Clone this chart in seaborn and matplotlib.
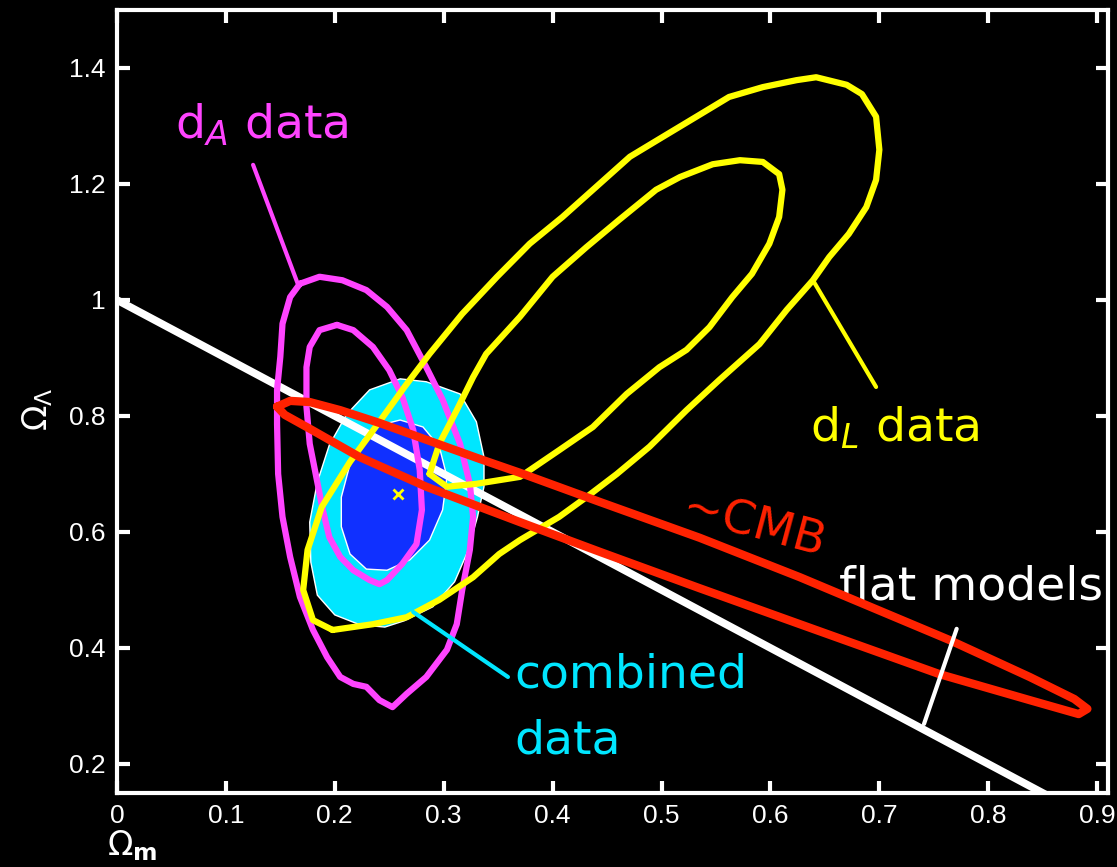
"""
Omega_m / Omega_Lambda confidence contours: d_A, d_L, ~CMB and combined data.
"""

import numpy as np
import matplotlib
matplotlib.use('Agg')
import matplotlib.pyplot as plt
import seaborn as sns

# ========== data (Omega_m, Omega_Lambda) ==========
# d_A contours (magenta)
da_outer_om = [0.168, 0.186, 0.207, 0.229, 0.248, 0.266, 0.284, 0.299, 0.315, 0.324, 0.327,
               0.324, 0.317, 0.312, 0.303, 0.284, 0.266, 0.253, 0.241, 0.229, 0.217, 0.205,
               0.193, 0.180, 0.168, 0.159, 0.152, 0.148, 0.147, 0.147, 0.150, 0.152, 0.159]
da_outer_ol = [1.028, 1.040, 1.034, 1.017, 0.988, 0.948, 0.884, 0.828, 0.752, 0.683, 0.626,
               0.569, 0.500, 0.441, 0.397, 0.350, 0.321, 0.298, 0.310, 0.333, 0.338, 0.350,
               0.384, 0.431, 0.488, 0.557, 0.626, 0.700, 0.786, 0.845, 0.902, 0.959, 1.005]
da_inner_om = [0.202, 0.217, 0.235, 0.250, 0.262, 0.272, 0.278, 0.280, 0.275, 0.262, 0.248,
               0.241, 0.232, 0.217, 0.205, 0.195, 0.189, 0.183, 0.177, 0.174, 0.174, 0.177, 0.186]
da_inner_ol = [0.957, 0.948, 0.919, 0.879, 0.833, 0.776, 0.707, 0.638, 0.579, 0.545, 0.517,
               0.510, 0.517, 0.534, 0.557, 0.591, 0.638, 0.695, 0.752, 0.816, 0.884, 0.919, 0.948]

# d_L contours (yellow)
dl_outer_om = [0.198, 0.235, 0.266, 0.296, 0.327, 0.351, 0.370, 0.406, 0.431, 0.459, 0.489,
               0.523, 0.553, 0.590, 0.615, 0.639, 0.654, 0.672, 0.688, 0.697, 0.700, 0.697,
               0.684, 0.670, 0.642, 0.624, 0.593, 0.562, 0.532, 0.501, 0.471, 0.440, 0.409,
               0.379, 0.349, 0.317, 0.287, 0.264, 0.241, 0.214, 0.188, 0.175, 0.171, 0.180]
dl_outer_ol = [0.431, 0.441, 0.453, 0.483, 0.522, 0.562, 0.586, 0.626, 0.660, 0.700, 0.747,
               0.810, 0.862, 0.924, 0.983, 1.034, 1.074, 1.114, 1.160, 1.207, 1.259, 1.316,
               1.355, 1.371, 1.384, 1.379, 1.367, 1.350, 1.316, 1.281, 1.247, 1.195, 1.143,
               1.097, 1.040, 0.976, 0.907, 0.850, 0.790, 0.721, 0.643, 0.569, 0.500, 0.448]
dl_inner_om = [0.287, 0.296, 0.312, 0.327, 0.339, 0.370, 0.400, 0.431, 0.461, 0.495, 0.517,
               0.547, 0.572, 0.593, 0.608, 0.611, 0.608, 0.599, 0.583, 0.565, 0.544, 0.523,
               0.498, 0.468, 0.437, 0.406, 0.370, 0.330, 0.303]
dl_inner_ol = [0.700, 0.752, 0.810, 0.867, 0.907, 0.971, 1.040, 1.091, 1.138, 1.190, 1.212,
               1.234, 1.241, 1.238, 1.217, 1.190, 1.143, 1.097, 1.045, 1.005, 0.953, 0.914,
               0.884, 0.838, 0.781, 0.741, 0.695, 0.683, 0.678]

# ~CMB contour (red)
cmb_om = [0.147, 0.159, 0.177, 0.205, 0.241, 0.284, 0.333, 0.370, 0.443, 0.535, 0.627,
          0.764, 0.838, 0.879, 0.891, 0.883, 0.840, 0.755, 0.627, 0.535, 0.443, 0.370,
          0.284, 0.223, 0.177, 0.154]
cmb_ol = [0.816, 0.826, 0.824, 0.810, 0.788, 0.759, 0.726, 0.702, 0.652, 0.590, 0.522,
          0.414, 0.350, 0.312, 0.295, 0.286, 0.309, 0.355, 0.441, 0.503, 0.566, 0.617,
          0.678, 0.729, 0.778, 0.802]

# combined data, filled regions
comb_outer_om = [0.260, 0.284, 0.315, 0.330, 0.337, 0.337, 0.331, 0.322, 0.310, 0.290, 0.264,
                 0.246, 0.223, 0.200, 0.184, 0.178, 0.177, 0.184, 0.195, 0.211, 0.232]
comb_outer_ol = [0.864, 0.859, 0.838, 0.790, 0.729, 0.678, 0.626, 0.566, 0.514, 0.471, 0.447,
                 0.436, 0.440, 0.457, 0.491, 0.548, 0.617, 0.686, 0.750, 0.803, 0.845]
comb_inner_om = [0.260, 0.281, 0.296, 0.303, 0.299, 0.287, 0.269, 0.248, 0.229, 0.214, 0.206,
                 0.206, 0.214, 0.226, 0.241]
comb_inner_ol = [0.793, 0.781, 0.747, 0.695, 0.638, 0.586, 0.552, 0.534, 0.536, 0.562, 0.609,
                 0.660, 0.717, 0.759, 0.784]
best_fit = (0.258, 0.666)

# flat models: Omega_m + Omega_Lambda = 1
flat_om = np.array([0.0, 0.91])
flat_ol = 1.0 - flat_om

MAGENTA = '#ff44ff'
YELLOW = '#ffff00'
RED = '#ff2200'
CYAN = '#00e6ff'
BLUE = '#1030ff'


def closed(a):
    a = np.asarray(a, dtype=float)
    return np.r_[a, a[:1]]


sns.set_theme(style='ticks')
plt.rcParams['font.family'] = ['Liberation Sans', 'DejaVu Sans']
plt.rcParams['mathtext.fontset'] = 'custom'
plt.rcParams['mathtext.rm'] = 'DejaVu Sans'
plt.rcParams['mathtext.it'] = 'DejaVu Sans:italic'

fig = plt.figure(figsize=(11.17, 8.67), dpi=100, facecolor='black')
ax = fig.add_axes([0.1047, 0.0854, 0.8873, 0.9031])
ax.set_facecolor('black')

# ========== 1. combined data (filled) ==========
ax.fill(closed(comb_outer_om), closed(comb_outer_ol), facecolor=CYAN,
        edgecolor='white', lw=1.0, zorder=1)
ax.fill(closed(comb_inner_om), closed(comb_inner_ol), facecolor=BLUE,
        edgecolor='white', lw=1.0, zorder=2)

# ========== 2. flat models line ==========
sns.lineplot(x=flat_om, y=flat_ol, sort=False, estimator=None, color='white',
             lw=5.5, ax=ax, zorder=3)

# ========== 3. contours ==========
for om, ol, col, lw in [(da_outer_om, da_outer_ol, MAGENTA, 4.5),
                        (da_inner_om, da_inner_ol, MAGENTA, 4.5),
                        (dl_outer_om, dl_outer_ol, YELLOW, 4.5),
                        (dl_inner_om, dl_inner_ol, YELLOW, 4.5),
                        (cmb_om, cmb_ol, RED, 6)]:
    sns.lineplot(x=closed(om), y=closed(ol), sort=False, estimator=None,
                 color=col, lw=lw, ax=ax, zorder=4)

ax.plot(*best_fit, marker='x', color=YELLOW, ms=7, mew=2, zorder=5)

# ========== 4. labels and leader lines ==========
txt_kw = dict(fontsize=34, family='DejaVu Sans')
ax.text(0.053, 1.302, 'd$_{A}$ data', color=MAGENTA, ha='left', va='center', **txt_kw)
ax.plot([0.125, 0.166], [1.233, 1.028], color=MAGENTA, lw=3, zorder=4)

ax.text(0.636, 0.778, 'd$_{L}$ data', color=YELLOW, ha='left', va='center', **txt_kw)
ax.plot([0.697, 0.639], [0.850, 1.034], color=YELLOW, lw=3, zorder=4)

ax.text(0.585, 0.609, '~CMB', color=RED, ha='center', va='center',
        rotation=-15, **txt_kw)

ax.text(0.784, 0.505, 'flat models', color='white', ha='center', va='center', **txt_kw)
ax.plot([0.771, 0.741], [0.433, 0.269], color='white', lw=3, zorder=4)

ax.text(0.365, 0.353, 'combined', color=CYAN, ha='left', va='center', **txt_kw)
ax.text(0.365, 0.239, 'data', color=CYAN, ha='left', va='center', **txt_kw)
ax.plot([0.272, 0.359], [0.462, 0.350], color=CYAN, lw=3, zorder=4)

# ========== 5. axes ==========
ax.set_xlim(0, 0.91)
ax.set_ylim(0.15, 1.5)
ax.set_xticks(np.arange(0, 0.91, 0.1))
ax.set_xticklabels(['0', '0.1', '0.2', '0.3', '0.4', '0.5', '0.6', '0.7', '0.8', '0.9'])
ax.set_yticks([0.2, 0.4, 0.6, 0.8, 1.0, 1.2, 1.4])
ax.set_yticklabels(['0.2', '0.4', '0.6', '0.8', '1', '1.2', '1.4'])
ax.tick_params(direction='in', length=9, width=3, colors='white', labelsize=19,
               top=True, right=True, pad=8)
for sp in ax.spines.values():
    sp.set_visible(True)
    sp.set_color('white')
    sp.set_linewidth(3)

ax.set_xlabel(r'$\Omega_{\mathbf{m}}$', color='white', fontsize=24)
ax.xaxis.set_label_coords(0.015, -0.045)
ax.set_ylabel(r'$\Omega_{\Lambda}$', color='white', fontsize=24)
ax.yaxis.set_label_coords(-0.063, 0.49)

fig.savefig('out.png', dpi=100, facecolor='black')
plt.close(fig)
